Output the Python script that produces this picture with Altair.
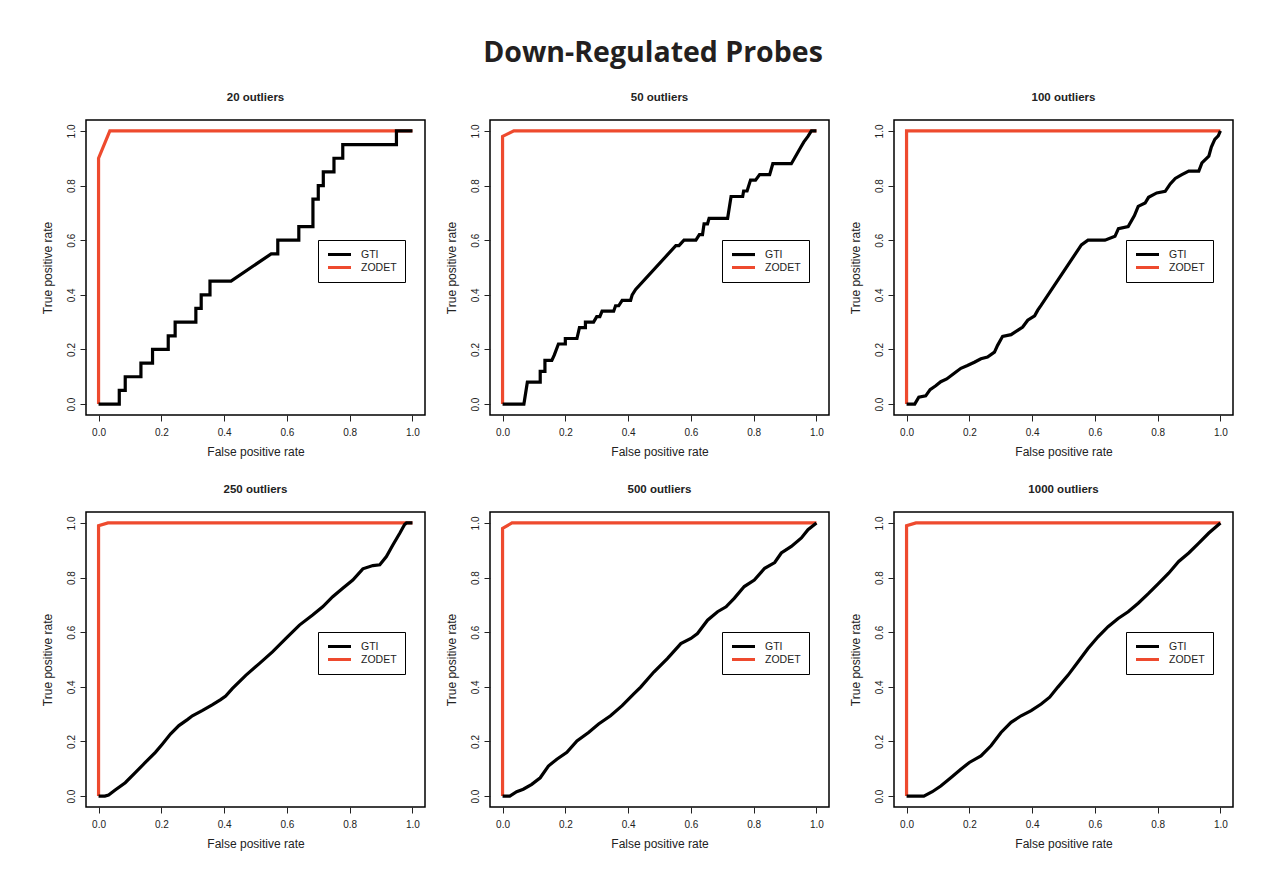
import altair as alt
import pandas as pd

TITLES = ["20 outliers", "50 outliers", "100 outliers", "250 outliers", "500 outliers", "1000 outliers"]
SERIES = ["GTI", "ZODET"]
COLORS = ["#000000", "#ee4a2e"]
TICKS = [0.0, 0.2, 0.4, 0.6, 0.8, 1.0]

# ---- 20 outliers
GTI_FPR_20 = [0, 0.066, 0.066, 0.085, 0.085, 0.135, 0.135, 0.172, 0.172, 0.222, 0.222, 0.244, 0.244,
              0.31, 0.31, 0.327, 0.327, 0.355, 0.355, 0.422, 0.55, 0.571, 0.571, 0.638, 0.638, 0.683,
              0.683, 0.70, 0.70, 0.716, 0.716, 0.75, 0.75, 0.778, 0.778, 0.949, 0.949, 1.0]
GTI_TPR_20 = [0, 0, 0.05, 0.05, 0.10, 0.10, 0.15, 0.15, 0.20, 0.20, 0.25, 0.25, 0.30, 0.30, 0.35, 0.35,
              0.40, 0.40, 0.45, 0.45, 0.55, 0.55, 0.60, 0.60, 0.65, 0.65, 0.75, 0.75, 0.80, 0.80, 0.85,
              0.85, 0.90, 0.90, 0.95, 0.95, 1.0, 1.0]
ZOD_FPR_20 = [0, 0, 0.036, 1.0]
ZOD_TPR_20 = [0, 0.90, 1.0, 1.0]

# ---- 50 outliers
GTI_FPR_50 = [0, 0.068, 0.079, 0.12, 0.12, 0.135, 0.135, 0.157, 0.165, 0.178, 0.20, 0.20, 0.237, 0.245,
              0.264, 0.264, 0.29, 0.30, 0.31, 0.317, 0.354, 0.36, 0.37, 0.381, 0.408, 0.413, 0.424,
              0.552, 0.562, 0.578, 0.616, 0.627, 0.637, 0.642, 0.653, 0.658, 0.717, 0.728, 0.765, 0.768,
              0.779, 0.79, 0.806, 0.819, 0.851, 0.861, 0.92, 0.93, 0.94, 0.95, 0.96, 0.973, 0.984, 1.0]
GTI_TPR_50 = [0, 0, 0.08, 0.08, 0.12, 0.12, 0.16, 0.16, 0.18, 0.22, 0.22, 0.24, 0.24, 0.28,
              0.28, 0.30, 0.30, 0.32, 0.32, 0.34, 0.34, 0.36, 0.36, 0.38, 0.38, 0.40, 0.42,
              0.58, 0.58, 0.60, 0.60, 0.62, 0.62, 0.66, 0.66, 0.68, 0.68, 0.76, 0.76, 0.78,
              0.78, 0.82, 0.82, 0.84, 0.84, 0.88, 0.88, 0.90, 0.92, 0.94, 0.96, 0.98, 1.0, 1.0]
ZOD_FPR_50 = [0, 0, 0.036, 1.0]
ZOD_TPR_50 = [0, 0.98, 1.0, 1.0]

# ---- 100 outliers
GTI_FPR_100 = [0, 0.026, 0.039, 0.061, 0.075, 0.093, 0.109, 0.128, 0.152, 0.173, 0.194, 0.216, 0.237,
               0.258, 0.28, 0.29, 0.306, 0.333, 0.354, 0.37, 0.386, 0.408, 0.418, 0.429, 0.557, 0.578,
               0.632, 0.664, 0.675, 0.706, 0.726, 0.738, 0.76, 0.771, 0.797, 0.824, 0.84, 0.856, 0.877,
               0.899, 0.931, 0.941, 0.963, 0.971, 0.982, 0.993, 1.0]
GTI_TPR_100 = [0, 0, 0.025, 0.03, 0.053, 0.067, 0.082, 0.092, 0.113, 0.131, 0.141, 0.153, 0.166,
               0.172, 0.19, 0.215, 0.248, 0.254, 0.27, 0.282, 0.307, 0.323, 0.344, 0.362, 0.583, 0.60,
               0.60, 0.614, 0.642, 0.65, 0.69, 0.724, 0.736, 0.757, 0.773, 0.779, 0.806, 0.826, 0.84,
               0.853, 0.853, 0.883, 0.908, 0.941, 0.969, 0.982, 1.0]
ZOD_FPR_100 = [0, 0, 1.0]
ZOD_TPR_100 = [0, 1.0, 1.0]

# ---- 250 outliers
GTI_FPR_250 = [0, 0.02, 0.032, 0.053, 0.085, 0.117, 0.149, 0.181, 0.203, 0.229, 0.256, 0.283, 0.299,
               0.33, 0.362, 0.389, 0.405, 0.426, 0.469, 0.512, 0.554, 0.597, 0.64, 0.682, 0.714, 0.746,
               0.778, 0.81, 0.842, 0.874, 0.896, 0.917, 0.938, 0.96, 0.975, 0.981, 1.0]
GTI_TPR_250 = [0, 0, 0.004, 0.022, 0.049, 0.086, 0.123, 0.16, 0.19, 0.227, 0.258, 0.28, 0.294,
               0.313, 0.334, 0.353, 0.366, 0.393, 0.442, 0.485, 0.528, 0.577, 0.626, 0.663, 0.693, 0.73,
               0.761, 0.791, 0.832, 0.844, 0.847, 0.877, 0.92, 0.963, 0.994, 1.0, 1.0]
ZOD_FPR_250 = [0, 0, 0.03, 1.0]
ZOD_TPR_250 = [0, 0.99, 1.0, 1.0]

# ---- 500 outliers
GTI_FPR_500 = [0, 0.023, 0.045, 0.066, 0.093, 0.12, 0.146, 0.173, 0.205, 0.237, 0.274, 0.306, 0.344,
               0.381, 0.418, 0.44, 0.482, 0.525, 0.568, 0.60, 0.621, 0.653, 0.685, 0.712, 0.738, 0.77,
               0.802, 0.835, 0.867, 0.888, 0.92, 0.952, 0.973, 1.0]
GTI_TPR_500 = [0, 0, 0.016, 0.025, 0.043, 0.067, 0.11, 0.135, 0.16, 0.202, 0.233, 0.264, 0.294,
               0.331, 0.374, 0.399, 0.454, 0.503, 0.558, 0.577, 0.595, 0.644, 0.675, 0.693, 0.724, 0.767,
               0.791, 0.834, 0.855, 0.89, 0.914, 0.945, 0.975, 1.0]
ZOD_FPR_500 = [0, 0, 0.03, 1.0]
ZOD_TPR_500 = [0, 0.98, 1.0, 1.0]

# ---- 1000 outliers
GTI_FPR_1000 = [0, 0.055, 0.082, 0.109, 0.141, 0.173, 0.20, 0.237, 0.269, 0.301, 0.333, 0.365, 0.397,
                0.429, 0.456, 0.482, 0.514, 0.546, 0.578, 0.61, 0.642, 0.674, 0.706, 0.738, 0.771, 0.803,
                0.835, 0.867, 0.899, 0.931, 0.963, 1.0]
GTI_TPR_1000 = [0, 0, 0.016, 0.037, 0.067, 0.098, 0.123, 0.147, 0.184, 0.233, 0.27, 0.294, 0.313,
                0.337, 0.362, 0.399, 0.442, 0.491, 0.54, 0.583, 0.62, 0.65, 0.675, 0.706, 0.742, 0.779,
                0.816, 0.859, 0.89, 0.926, 0.963, 1.0]
ZOD_FPR_1000 = [0, 0, 0.03, 1.0]
ZOD_TPR_1000 = [0, 0.99, 1.0, 1.0]

PANEL_DATA = [
    (GTI_FPR_20, GTI_TPR_20, ZOD_FPR_20, ZOD_TPR_20),
    (GTI_FPR_50, GTI_TPR_50, ZOD_FPR_50, ZOD_TPR_50),
    (GTI_FPR_100, GTI_TPR_100, ZOD_FPR_100, ZOD_TPR_100),
    (GTI_FPR_250, GTI_TPR_250, ZOD_FPR_250, ZOD_TPR_250),
    (GTI_FPR_500, GTI_TPR_500, ZOD_FPR_500, ZOD_TPR_500),
    (GTI_FPR_1000, GTI_TPR_1000, ZOD_FPR_1000, ZOD_TPR_1000),
]

FONT = "Liberation Sans"
TXT = "#222222"


def make_panel(title, gx, gy, zx, zy):
    rows = []
    for i, (a, b) in enumerate(zip(zx, zy)):
        rows.append({"series": "ZODET", "fpr": a, "tpr": b, "idx": i})
    for i, (a, b) in enumerate(zip(gx, gy)):
        rows.append({"series": "GTI", "fpr": a, "tpr": b, "idx": i})
    df = pd.DataFrame(rows)
    xenc = alt.X("fpr:Q", scale=alt.Scale(domain=[-0.04, 1.04], nice=False, zero=False),
                 axis=alt.Axis(values=TICKS, format=".1f", title="False positive rate"))
    yenc = alt.Y("tpr:Q", scale=alt.Scale(domain=[-0.04, 1.04], nice=False, zero=False),
                 axis=alt.Axis(values=TICKS, format=".1f", title="True positive rate"))
    cenc = alt.Color("series:N", scale=alt.Scale(domain=SERIES, range=COLORS),
                     legend=alt.Legend(title=None, orient="none", legendX=232, legendY=120,
                                       fillColor="white", strokeColor="black",
                                       padding=8, symbolType="stroke", symbolStrokeWidth=3.2,
                                       symbolSize=529, clipHeight=13,
                                       labelFont=FONT, labelFontSize=10.5, labelColor=TXT,
                                       rowPadding=0, labelOffset=8))
    base = alt.Chart(df)
    zl = base.transform_filter(alt.datum.series == "ZODET").mark_line(strokeWidth=3.2).encode(
        x=xenc, y=yenc, color=cenc, order="idx:Q")
    gl = base.transform_filter(alt.datum.series == "GTI").mark_line(strokeWidth=3.2).encode(
        x=xenc, y=yenc, color=cenc, order="idx:Q")
    return alt.layer(zl, gl).properties(
        width=339, height=295,
        title=alt.TitleParams(title, font=FONT, fontSize=11.5, fontWeight="bold", color=TXT, offset=17))


panels = [make_panel(t, *d) for t, d in zip(TITLES, PANEL_DATA)]
row1 = alt.hconcat(*panels[:3], spacing=18).resolve_scale(color="independent")
row2 = alt.hconcat(*panels[3:], spacing=18).resolve_scale(color="independent")

chart = alt.vconcat(row1, row2, spacing=24).resolve_scale(color="independent").properties(
    title=alt.TitleParams("Down-Regulated Probes", font="Open Sans", fontSize=28.5, fontWeight="bold",
                          color="#231f20", anchor="middle", offset=23, dx=16),
    padding={"left": 32, "top": 31, "right": 10, "bottom": 10},
    background="white",
).configure_view(stroke="black", strokeWidth=1.5).configure_axis(
    domain=False, grid=False, ticks=True, tickColor=TXT, tickSize=6, tickWidth=1,
    labelFont=FONT, labelFontSize=10, labelColor=TXT, labelPadding=6,
    titleFont=FONT, titleFontSize=12, titleFontWeight="normal", titleColor=TXT, titlePadding=9,
).configure_axisY(labelAngle=270, labelPadding=4, titlePadding=12)

chart.save("out.html", embed_options={"renderer": "svg", "actions": False})
